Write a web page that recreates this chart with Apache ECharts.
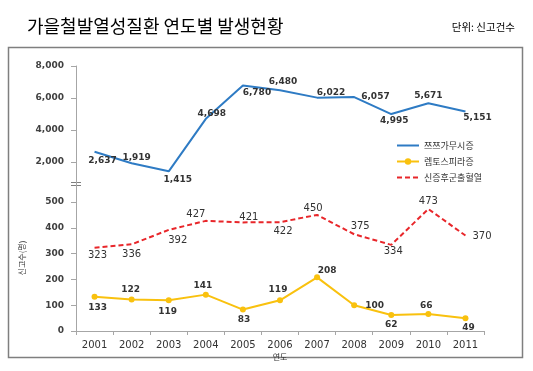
<!DOCTYPE html>
<html><head><meta charset="utf-8">
<script src="https://cdn.jsdelivr.net/npm/echarts@6/dist/echarts.min.js"></script>
<style>html,body{margin:0;padding:0;background:#fff}#c{width:533px;height:371px}</style>
</head><body><div id="c"></div>
<script>
const years = ['2001','2002','2003','2004','2005','2006','2007','2008','2009','2010','2011'];
const tsutsugamushi = [2637,1919,1415,4698,6780,6480,6022,6057,4995,5671,5151];
const leptospirosis = [133,122,119,141,83,119,208,100,62,66,49];
const hfrs = [323,336,392,427,421,422,450,375,334,473,370];
const upperTicks = [2000,4000,6000,8000];
const lowerTicks = [0,100,200,300,400,500];
const seriesNames = ['쯔쯔가무시증','렙토스피라증','신증후군출혈열'];
const titleText = '가을철발열성질환 연도별 발생현황';
const unitText = '단위: 신고건수';
const yName = '신고수(명)';
const xName = '연도';

// label placement (style only)
const blueLab = [['bottom',8,-1],['top',5,4],['bottom',9,-1],['top',6,4],['bottom',14,-2],['top',3,1],['top',14,5],['right',2,0],['bottom',3,-3],['top',0,2],['bottom',12,-3]];
const redLab = [['bottom',3,-2],['bottom',0,0],['bottom',9,1],['top',-10,4],['top',6,5],['bottom',3,-1],['top',-4,3],['top',6,2],['bottom',2,-3],['top',0,2],['right',2,1]];
const yelLab = [['bottom',3,-2],['top',-1,3],['bottom',-1,-1],['top',-3,4],['bottom',1,-2],['top',-2,2],['top',10,6],['right',3,0],['bottom',0,-3],['top',-2,4],['bottom',3,-3]];

const fmt = v => Number(v).toLocaleString('en-US');
const FONT = 'DejaVu Sans';
const KFONT = 'Noto Sans CJK KR';

function withLabels(vals, places) {
  return vals.map((v, i) => ({
    value: v,
    label: {position: places[i][0], offset: [places[i][1], places[i][2]]}
  }));
}

const axisGrey = '#a6a6a6';
const chart = echarts.init(document.getElementById('c'), null, {renderer: 'canvas'});
chart.setOption({
  animation: false,
  backgroundColor: '#fff',
  title: [
    {text: titleText, left: 22, top: 12, textStyle: {fontFamily: KFONT, fontSize: 18, fontWeight: 'normal', color: '#000'}},
    {text: unitText, right: 13, top: 17, textStyle: {fontFamily: KFONT, fontSize: 10.5, fontWeight: 'normal', color: '#000'}}
  ],
  legend: {
    orient: 'vertical', left: 391, top: 136, itemGap: 7, itemWidth: 22, itemHeight: 8,
    textStyle: {fontFamily: KFONT, fontSize: 9, color: '#333'},
    data: [
      {name: seriesNames[0], itemStyle: {opacity: 0}},
      {name: seriesNames[1]},
      {name: seriesNames[2], itemStyle: {opacity: 0}}
    ]
  },
  grid: [
    {left: 76, right: 49, top: 66, height: 119},
    {left: 76, right: 49, top: 185, height: 146}
  ],
  xAxis: [
    {type: 'category', gridIndex: 0, data: years, show: false},
    {type: 'category', gridIndex: 1, data: years, boundaryGap: true,
     axisLine: {lineStyle: {color: axisGrey}},
     axisTick: {show: true, interval: 0, length: 4, lineStyle: {color: axisGrey}},
     axisLabel: {interval: 0, margin: 9, fontFamily: FONT, fontSize: 10, color: '#333'},
     name: xName, nameLocation: 'middle', nameGap: 22,
     nameTextStyle: {fontFamily: KFONT, fontSize: 8, color: '#333'}}
  ],
  yAxis: [
    {type: 'value', gridIndex: 0, min: 560, max: 8000,
     axisLine: {show: true, lineStyle: {color: axisGrey}},
     axisTick: {show: true, length: 5, customValues: upperTicks, lineStyle: {color: axisGrey}},
     axisLabel: {customValues: upperTicks, formatter: fmt, margin: 12, fontFamily: FONT, fontSize: 9, fontWeight: 'bold', color: '#404040'},
     splitLine: {show: false}},
    {type: 'value', gridIndex: 1, min: 0, max: 566,
     axisLine: {show: true, lineStyle: {color: axisGrey}},
     axisTick: {show: true, length: 5, customValues: lowerTicks, lineStyle: {color: axisGrey}},
     axisLabel: {customValues: lowerTicks, formatter: fmt, margin: 12, fontFamily: FONT, fontSize: 9, fontWeight: 'bold', color: '#404040'},
     splitLine: {show: false},
     name: yName, nameLocation: 'middle', nameGap: 50, nameRotate: 90,
     nameTextStyle: {fontFamily: KFONT, fontSize: 8, color: '#333'}}
  ],
  series: [
    {name: seriesNames[0], type: 'line', xAxisIndex: 0, yAxisIndex: 0,
     data: withLabels(tsutsugamushi, blueLab),
     symbol: 'circle', symbolSize: 0, showSymbol: true,
     lineStyle: {color: '#2e7bc4', width: 2}, itemStyle: {color: '#2e7bc4'},
     label: {show: true, formatter: p => fmt(p.value), fontFamily: FONT, fontSize: 9, fontWeight: 'bold', color: '#333'}},
    {name: seriesNames[1], type: 'line', xAxisIndex: 1, yAxisIndex: 1,
     data: withLabels(leptospirosis, yelLab),
     symbol: 'circle', symbolSize: 6, lineStyle: {color: '#f9c10e', width: 2}, itemStyle: {color: '#f9c10e'},
     label: {show: true, formatter: p => fmt(p.value), fontFamily: FONT, fontSize: 9, fontWeight: 'bold', color: '#333'}},
    {name: seriesNames[2], type: 'line', xAxisIndex: 1, yAxisIndex: 1,
     data: withLabels(hfrs, redLab),
     symbol: 'circle', symbolSize: 0, showSymbol: true,
     lineStyle: {color: '#e8262a', width: 2, type: [5, 3]}, itemStyle: {color: '#e8262a'},
     label: {show: true, formatter: p => fmt(p.value), fontFamily: FONT, fontSize: 10, fontWeight: 'normal', color: '#333'}}
  ],
  graphic: [
    {type: 'rect', shape: {x: 8.5, y: 47.5, width: 514, height: 310}, style: {fill: null, stroke: '#7f7f7f', lineWidth: 1.5}, silent: true},
    {type: 'line', shape: {x1: 71, y1: 182.5, x2: 81, y2: 182.5}, style: {stroke: '#7f7f7f', lineWidth: 1}, silent: true},
    {type: 'line', shape: {x1: 71, y1: 185.5, x2: 81, y2: 185.5}, style: {stroke: '#7f7f7f', lineWidth: 1}, silent: true}
  ]
});
</script>
</body></html>
